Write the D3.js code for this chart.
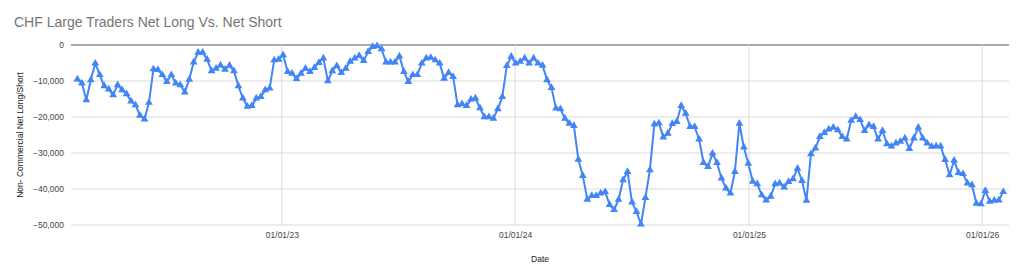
<!DOCTYPE html>
<html>
<head>
<meta charset="utf-8">
<script src="https://cdn.jsdelivr.net/npm/d3@7"></script>
<style>
  body { margin: 0; background: #fff; }
  svg { display: block; font-family: "Liberation Sans", Arial, sans-serif; }
</style>
</head>
<body>
<div id="chart"></div>
<script>
// weekly COT report, first Tuesday of the series
var firstDate = "2022-02-15";

// non-commercial net long/short, one value per week
var netPositions = [
  -9500, -10600, -15300, -9700, -5100, -8300, -11400, -12300, -13900, -11100,
  -12500, -13600, -15600, -16700, -19600, -20600, -16000, -6700, -6900, -8300,
  -10200, -8300, -10600, -11100, -13100, -9600, -4800, -2100, -2100, -4000,
  -7200, -6500, -5600, -6800, -5700, -7200, -11400, -14800, -17100, -16900,
  -14800, -14400, -12500, -12000, -4200, -4000, -2800, -7400, -7900, -9400,
  -7900, -6500, -7400, -6300, -4900, -3700, -10000, -7200, -5800, -7700,
  -6500, -4600, -3700, -3000, -4400, -1900, -500, -300, -1100, -4800,
  -4800, -4800, -3100, -7400, -10200, -8300, -8300, -5100, -3700, -3500,
  -4200, -5100, -9300, -7700, -8800, -16700, -16400, -16900, -15100, -14800,
  -17500, -20000, -20000, -20400, -17800, -14400, -5800, -3200, -5100, -4600,
  -3700, -5100, -3700, -5100, -5700, -9700, -11900, -17600, -17800, -20400,
  -21800, -22400, -31800, -36300, -42900, -41900, -41900, -41200, -40800, -44400,
  -45800, -42900, -37500, -35200, -43700, -46300, -49800, -42400, -34700, -22000,
  -21700, -25600, -24600, -21900, -21300, -16900, -19000, -22700, -22700, -26200,
  -32700, -33800, -30100, -32700, -37000, -39800, -41200, -35200, -21800, -28400,
  -32900, -37900, -38600, -41700, -43100, -42100, -38600, -38400, -39500, -38000,
  -37200, -34300, -37700, -43200, -30300, -28700, -25500, -24400, -23400, -22900,
  -23600, -25500, -26200, -21000, -19900, -20800, -23800, -22200, -22700, -26200,
  -23800, -27500, -28100, -27300, -26800, -25900, -28800, -25900, -22900, -25900,
  -27300, -28200, -28100, -28100, -31900, -36100, -32100, -35500, -35800, -38400,
  -38900, -44000, -44200, -40500, -43500, -43200, -43100, -40800
];

var yTicks = [0, -10000, -20000, -30000, -40000, -50000];
var xTicks = ["2023-01-01", "2024-01-01", "2025-01-01", "2026-01-01"];

var chartTitle = "CHF Large Traders Net Long Vs. Net Short";
var yTitle = "Non- Commercial Net Long/Short";
var xTitle = "Date";

var width = 1024, height = 277;
var margin = {top: 45, right: 15, bottom: 52, left: 71};

var parse = d3.utcParse("%Y-%m-%d");
var start = parse(firstDate);
var data = netPositions.map(function(v, i) {
  return {date: d3.utcWeek.offset(start, i), value: v};
});

var svg = d3.select("#chart").append("svg")
  .attr("width", width)
  .attr("height", height);

var x = d3.scaleUtc()
  .domain([d3.utcDay.offset(data[0].date, -10), d3.utcDay.offset(data[data.length - 1].date, 9)])
  .range([margin.left, width - margin.right]);

var y = d3.scaleLinear()
  .domain([-50000, 0])
  .range([height - margin.bottom, margin.top]);

// horizontal grid, zero line darker
svg.append("g").selectAll("line")
  .data(yTicks)
  .join("line")
  .attr("x1", x.range()[0])
  .attr("x2", x.range()[1])
  .attr("y1", function(d) { return y(d); })
  .attr("y2", function(d) { return y(d); })
  .attr("stroke", function(d) { return d === 0 ? "#555" : "#d9d9d9"; })
  .attr("stroke-width", 1);

// vertical grid at year ticks
svg.append("g").selectAll("line")
  .data(xTicks.map(parse))
  .join("line")
  .attr("x1", function(d) { return x(d); })
  .attr("x2", function(d) { return x(d); })
  .attr("y1", y(0))
  .attr("y2", y(-50000))
  .attr("stroke", "#d9d9d9")
  .attr("stroke-width", 1);

// y axis labels
var yAxis = d3.axisLeft(y)
  .tickValues(yTicks)
  .tickSize(0)
  .tickPadding(7)
  .tickFormat(d3.format(","));
var gy = svg.append("g")
  .attr("transform", "translate(" + margin.left + ",0)")
  .call(yAxis);
gy.select(".domain").remove();
gy.selectAll("text")
  .attr("fill", "#444")
  .style("font-size", "8.5px")
  .style("font-family", "'Liberation Sans', Arial, sans-serif");

// x axis labels
var xAxis = d3.axisBottom(x)
  .tickValues(xTicks.map(parse))
  .tickSize(0)
  .tickPadding(7)
  .tickFormat(d3.utcFormat("%m/%d/%y"));
var gx = svg.append("g")
  .attr("transform", "translate(0," + y(-50000) + ")")
  .call(xAxis);
gx.select(".domain").remove();
gx.selectAll("text")
  .attr("fill", "#444")
  .style("font-size", "8.5px")
  .style("font-family", "'Liberation Sans', Arial, sans-serif");

// line
var line = d3.line()
  .x(function(d) { return x(d.date); })
  .y(function(d) { return y(d.value); });

svg.append("path")
  .datum(data)
  .attr("d", line)
  .attr("fill", "none")
  .attr("stroke", "#4285f4")
  .attr("stroke-width", 2)
  .attr("stroke-linejoin", "round");

// triangle markers
var tri = d3.symbol().type(d3.symbolTriangle).size(26);
svg.append("g").selectAll("path")
  .data(data)
  .join("path")
  .attr("d", tri)
  .attr("transform", function(d) { return "translate(" + x(d.date) + "," + y(d.value) + ")"; })
  .attr("fill", "#4285f4");

// titles
svg.append("text")
  .attr("x", 14)
  .attr("y", 27)
  .attr("fill", "#757575")
  .style("font-size", "14px")
  .text(chartTitle);

svg.append("text")
  .attr("x", (x.range()[0] + x.range()[1]) / 2)
  .attr("y", 262)
  .attr("text-anchor", "middle")
  .attr("fill", "#222")
  .style("font-size", "8.5px")
  .text(xTitle);

svg.append("text")
  .attr("transform", "translate(23," + ((y.range()[0] + y.range()[1]) / 2) + ") rotate(-90)")
  .attr("text-anchor", "middle")
  .attr("fill", "#222")
  .style("font-size", "8.5px")
  .text(yTitle);
</script>
</body>
</html>
